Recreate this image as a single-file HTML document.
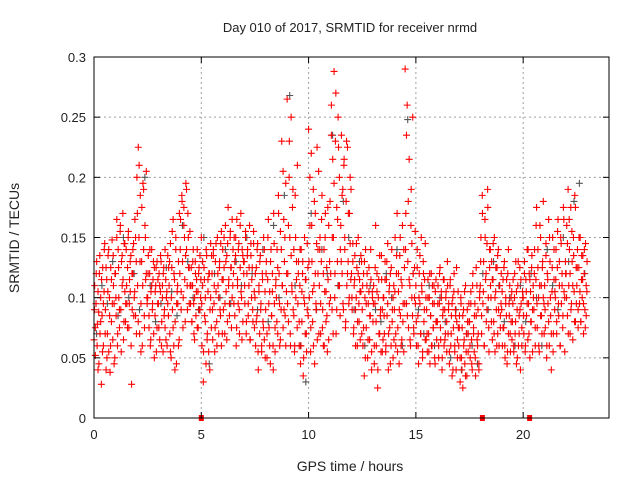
<!DOCTYPE html>
<html><head><meta charset="utf-8"><style>
html,body{margin:0;padding:0;background:#fff}
svg{display:block;font-family:"Liberation Sans",sans-serif;}
</style></head><body>
<svg id="chart" width="640" height="480" viewBox="0 0 640 480" xmlns="http://www.w3.org/2000/svg">
<rect x="0" y="0" width="640" height="480" fill="#fff"/>
<text x="350" y="32" text-anchor="middle" font-size="13" fill="#222">Day 010 of 2017, SRMTID for receiver nrmd</text>
<text x="350" y="471" text-anchor="middle" font-size="14" fill="#222">GPS time / hours</text>
<text x="19" y="238" text-anchor="middle" font-size="14" fill="#222" transform="rotate(-90 19 238)">SRMTID / TECUs</text>
<g id="grid"></g>
<g id="gray"></g>
<g id="red"></g>
<g id="axes"></g>
</svg>
<script>
const xTicks = [0,5,10,15,20];
const yTicks = [0,0.05,0.1,0.15,0.2,0.25,0.3];
const yTickLabels = ["0","0.05","0.1","0.15","0.2","0.25","0.3"];
const redStep = 0.03125;
const redValues = [
65,110,52,95,130,78,40,88,120,70,100,28,85,125,60,105,
145,90,40,115,70,135,55,100,38,125,80,148,65,110,95,50,
120,85,165,60,140,100,75,155,90,130,110,170,65,145,105,80,
140,95,125,150,75,115,105,135,28,90,120,145,100,165,85,130,
200,110,225,150,70,185,95,130,60,195,140,85,160,115,205,100,
100,135,75,120,60,105,140,90,115,70,125,85,110,55,130,95,
95,120,65,105,130,80,110,55,125,90,75,115,100,60,135,85,
110,70,145,50,125,90,165,60,115,80,150,45,105,95,130,65,
120,165,90,185,130,100,175,150,80,195,140,110,170,125,95,155,
95,125,80,110,140,70,100,130,85,115,75,105,120,90,135,100,
150,60,110,30,125,85,100,45,135,70,115,55,120,90,145,75,
120,65,140,95,55,130,105,80,150,110,70,125,90,145,60,115,
140,90,125,70,160,105,135,80,175,115,95,150,125,75,165,110,
120,150,85,135,60,165,110,95,145,70,125,170,100,140,80,130,
130,95,155,70,120,140,85,110,160,65,135,100,125,80,145,105,
100,60,125,85,145,40,110,70,135,95,55,120,80,150,65,105,
90,130,50,115,165,75,105,45,140,85,120,60,170,95,55,110,
100,140,70,185,120,60,155,90,230,110,75,165,130,85,195,105,
265,120,80,200,150,60,250,110,175,90,140,55,185,100,130,75,
95,130,60,110,45,140,80,120,35,100,150,70,115,55,90,125,
240,100,160,55,220,130,80,190,110,45,170,95,145,65,120,205,
110,150,70,130,185,90,60,140,105,170,80,125,55,115,160,95,
180,120,260,90,215,150,288,100,230,70,175,130,250,110,200,85,
160,235,120,190,90,215,140,75,180,110,225,130,95,170,200,115,
120,90,145,70,110,135,60,100,125,80,150,95,115,65,105,130,
90,60,120,35,100,140,75,110,50,95,125,65,85,115,40,105,
80,110,45,95,160,60,120,25,100,70,135,85,55,115,90,65,
100,70,130,55,115,85,145,40,105,75,120,60,140,90,50,110,
90,150,60,120,170,75,105,45,135,85,115,65,160,95,55,125,
290,170,95,260,130,75,215,110,60,190,145,85,120,70,100,155,
110,60,140,85,45,120,95,70,150,105,55,130,80,115,65,100,
90,55,115,70,100,45,85,120,60,95,75,110,50,105,80,65,
80,110,50,95,125,65,100,40,85,115,60,90,70,105,55,130,
70,95,45,110,60,85,35,100,75,120,55,90,40,80,65,105,
60,85,30,100,50,75,25,90,65,45,110,55,35,80,70,95,
80,50,105,65,40,120,75,55,95,35,85,110,60,70,45,100,
110,150,70,185,95,130,60,165,115,80,145,190,100,55,125,140,
100,130,65,115,80,150,55,105,90,125,70,140,60,110,85,95,
90,60,115,75,130,50,100,85,45,120,70,95,110,55,80,105,
80,115,55,100,70,130,45,90,110,60,85,125,40,95,75,105,
100,70,130,55,115,85,140,65,95,120,50,105,80,135,90,110,
90,140,60,115,175,75,125,100,55,160,85,110,70,130,180,95,
110,75,145,50,120,95,165,60,130,85,40,105,150,70,115,90,
100,140,70,125,165,85,110,60,150,95,120,75,175,105,55,130,
120,160,85,190,110,140,70,175,95,130,65,150,105,185,80,125,
110,140,75,125,95,150,80,115,100,135,70,120,90,145,85,105
];
const red2Step = 0.5/12;
const red2Values = [
90,75,120,60,105,45,135,80,115,55,95,140,
70,125,50,105,140,85,60,115,95,135,45,120,
100,150,70,125,90,160,55,135,115,80,145,95,
110,75,155,95,130,60,120,140,85,105,150,70,
170,80,210,130,55,175,110,190,75,150,120,95,
120,85,140,65,110,95,130,50,105,125,75,115,
75,110,135,60,100,120,85,140,65,105,95,125,
130,55,100,155,75,120,40,140,95,110,60,170,
140,105,180,75,160,115,135,190,90,150,125,110,
110,80,130,95,65,120,105,140,75,125,90,115,
95,130,55,115,80,140,65,105,120,40,100,135,
90,135,110,75,145,60,120,100,130,85,155,70,
115,150,95,130,65,145,110,85,155,125,100,140,
95,130,150,75,115,140,90,160,105,65,135,120,
110,150,80,135,95,125,65,145,115,90,155,75,
120,80,140,55,105,130,90,60,115,75,140,50,
120,70,150,95,60,130,85,105,40,145,75,115,
80,125,170,95,65,140,110,205,90,150,60,120,
95,160,230,70,135,105,190,85,60,150,115,210,
120,80,140,60,105,130,50,95,115,70,145,85,
130,200,75,160,105,60,180,120,90,225,140,70,
140,95,165,75,120,60,150,105,85,175,65,130,
100,235,150,70,195,120,270,90,165,225,110,140,
130,185,95,210,150,80,230,120,170,100,145,190,
100,130,75,115,90,145,60,120,80,105,135,70,
110,75,130,50,95,120,65,105,85,140,55,100,
95,60,125,80,105,40,115,70,90,135,55,100,
85,115,60,130,95,70,110,45,125,80,100,65,
105,70,135,55,120,90,150,60,110,80,140,95,
140,235,85,180,115,65,160,100,250,75,125,95,
80,125,60,100,135,70,110,50,120,90,145,65,
70,100,55,120,85,60,110,75,95,45,115,80,
95,60,120,75,105,50,90,115,65,100,80,110,
90,55,115,70,95,40,105,60,85,125,50,75,
75,50,95,40,85,60,105,35,70,90,55,80,
60,95,45,110,70,85,50,125,65,90,40,105,
130,85,170,105,60,150,120,90,175,75,140,110,
80,115,145,70,100,125,60,135,90,110,75,120,
105,75,125,60,95,115,55,140,85,70,100,65,
95,60,120,80,105,50,130,70,90,115,60,100,
85,120,60,105,95,140,70,115,80,125,55,100,
120,75,160,95,140,60,110,150,85,125,100,70,
90,135,60,115,80,150,100,70,125,55,140,105,
115,80,155,95,130,60,145,110,85,165,100,120,
100,145,70,165,120,90,155,110,135,80,175,95,
125,90,150,105,80,135,115,95,140,75,110,130
];
const grayStep = 0.25;
const grayValues = [
70,110,95,130,85,150,100,120,90,200,110,80,95,125,105,85,160,130,100,90,
150,45,120,100,140,95,130,110,150,120,90,140,80,160,100,185,268,110,60,30,
170,90,140,120,235,110,180,150,90,130,60,110,90,80,120,100,140,60,248,120,
90,70,110,60,100,80,50,90,40,70,60,45,120,90,130,110,80,100,60,110,
80,120,100,60,140,110,90,150,130,180,195,120
];
const zeroTimes = [5.0, 18.1, 20.3];

const L=94,R=609,T=57,B=418;
const xS = h => L + h/24*(R-L);
const yS = v => B - v/0.3*(B-T);
const NS="http://www.w3.org/2000/svg";
function mk(tag, parent, attrs){const e=document.createElementNS(NS,tag);for(const k in attrs)e.setAttribute(k,attrs[k]);parent.appendChild(e);return e;}
const grid=document.getElementById('grid'), axes=document.getElementById('axes');
xTicks.forEach(t=>{
  if(t>0){const g=mk('line',grid,{x1:xS(t),x2:xS(t),y1:T,y2:B,stroke:'#a0a0a0','stroke-dasharray':'2,3'});
  
  }
  mk('line',axes,{x1:xS(t),x2:xS(t),y1:B,y2:B-6,stroke:'#000'});
  mk('line',axes,{x1:xS(t),x2:xS(t),y1:T,y2:T+6,stroke:'#000'});
  const tx=mk('text',axes,{x:xS(t),y:B+21,'text-anchor':'middle','font-size':'13',fill:'#222'});
  
  
  tx.textContent=String(t);
});
yTicks.forEach((v,i)=>{
  if(v>0&&v<0.3){const g=mk('line',grid,{x1:L,x2:R,y1:yS(v),y2:yS(v),stroke:'#a0a0a0','stroke-dasharray':'2,3'});
  
  }
  mk('line',axes,{x1:L,x2:L+6,y1:yS(v),y2:yS(v),stroke:'#000'});
  mk('line',axes,{x1:R,x2:R-6,y1:yS(v),y2:yS(v),stroke:'#000'});
  const tx=mk('text',axes,{x:L-8,y:yS(v)+5,'text-anchor':'end','font-size':'13',fill:'#222'});
  
  
  tx.textContent=yTickLabels[i];
});
const frame=mk('rect',axes,{x:L,y:T,width:R-L,height:B-T,fill:'none',stroke:'#000','stroke-width':'1'});


function cross(parent,x,y,col){
  return mk('path',parent,{d:`M${x-3.5},${y}h7M${x},${y-3.5}v7`,stroke:col,'stroke-width':'1.1',fill:'none'});
}
const gg=document.getElementById('gray');
grayValues.forEach((v,i)=>{
  const p=cross(gg,xS(i*grayStep+0.12),yS(v/1000),'#555');
  
  
});
const rg=document.getElementById('red');
redValues.forEach((v,i)=>{
  const p=cross(rg,xS(i*redStep),yS(v/1000),'#f00');
  
  
});
red2Values.forEach((v,i)=>{
  const p=cross(rg,xS(i*red2Step+0.02),yS(v/1000),'#f00');
  
  
});
zeroTimes.forEach(t=>{
  const r=mk('rect',rg,{x:xS(t)-2.5,y:B-3,width:5,height:6,fill:'#f00'});
  
  
});
</script>
</body></html>
